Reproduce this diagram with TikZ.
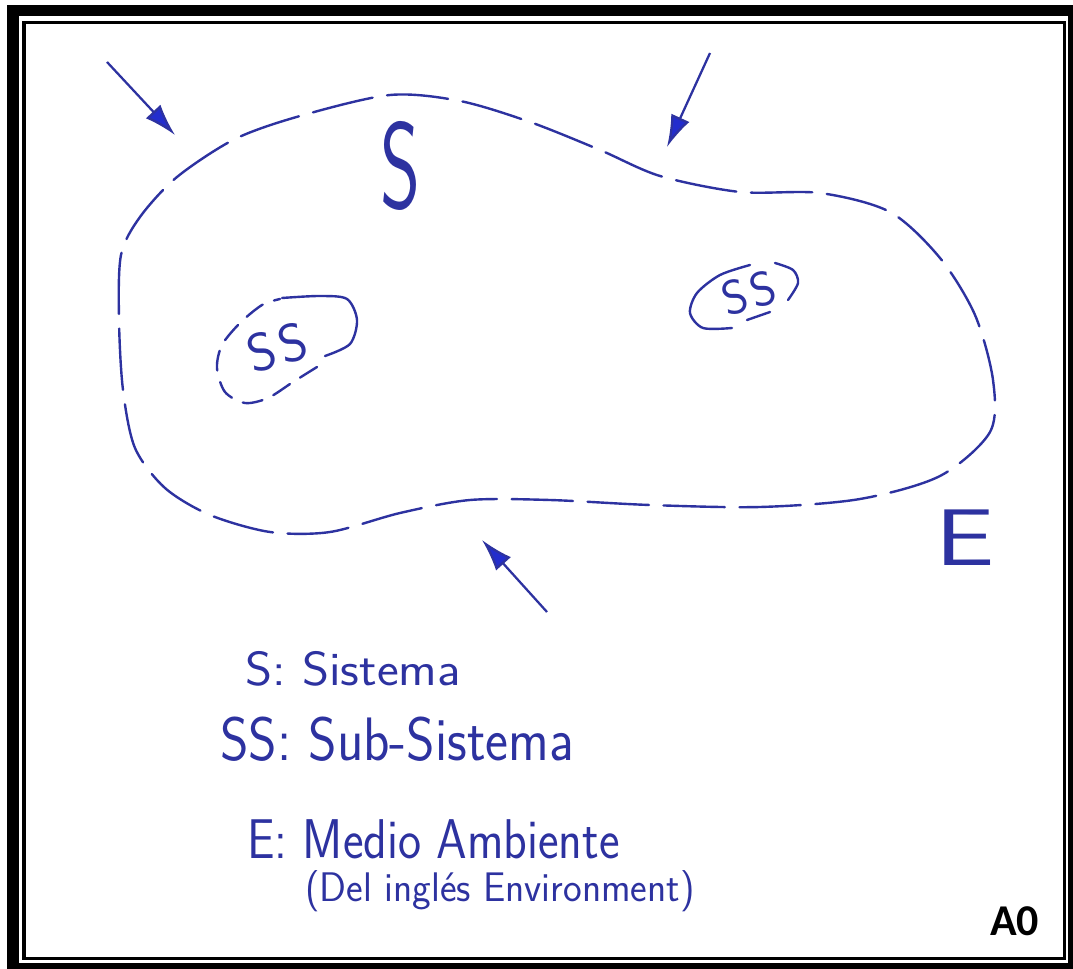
\documentclass[tikz,border=0pt]{standalone}
\usepackage{fontspec}
\newfontfamily\tagfont{Carlito}
\usetikzlibrary{arrows.meta}
\definecolor{ink}{RGB}{45,50,160}
\definecolor{inkhead}{RGB}{35,45,205}
\begin{document}
\begin{tikzpicture}[x=0.75pt,y=-0.75pt,
    pen/.style={ink,line width=1.8pt,line cap=round},
    bound/.style={dash pattern=on 46pt off 11pt},
    subbound/.style={dash pattern=on 15pt off 9pt},
    flow/.style={ink,line width=1.7pt,-{Latex[length=24pt,width=15pt,fill=inkhead]}},
    hand/.style={ink,inner sep=0pt}]
    \useasboundingbox (0,0) rectangle (1073,969);
    % frame
    \fill[black] (7,5) rectangle (1073,969);
    \fill[white] (19,16) rectangle (1068,963);
    \draw[black,line width=2.6pt] (24,22.5) rectangle (1064.5,958.5);
    % system boundary
    \draw[pen,bound] plot[smooth cycle] coordinates {(140,217) (177,177) (235,139) (300,116) (390,95) (460,101) (530,122) (600,150) (660,176) (740,192) (820,193) (890,212) (940,258) (975,315) (993,380) (990,432) (940,476) (860,499) (760,507) (650,505) (550,500) (470,500) (400,513) (330,532) (270,532) (210,515) (165,488) (135,448) (123,390) (119,320) (121,255)};
    % sub-systems
    \draw[pen] plot[smooth] coordinates {(282,298) (320,296) (347,299) (357,320) (350,344) (325,356)};
    \draw[pen,subbound] plot[smooth] coordinates {(317,367) (293,382) (268,398) (245,403) (225,392) (217,368) (222,345) (240,323) (262,305) (280,299)};
    \draw[pen] plot[smooth] coordinates {(750,265) (720,275) (697,293) (690,313) (703,328) (732,328)};
    \draw[pen] (747,320) -- (770,312);
    \draw[pen] plot[smooth] coordinates {(775,263) (793,270) (798,283) (788,300)};
    \node[hand,rotate=16,font=\sffamily\fontsize{40}{40}\selectfont] (ssa) at (277,347) {S\kern3pt S};
    \node[hand,rotate=16,font=\sffamily\fontsize{36}{36}\selectfont] (ssb) at (749,293) {S\kern3pt S};
    % labels
    \node[hand,xscale=1.15,yscale=1.84,font=\sffamily\fontsize{50}{50}\selectfont] (sys) at (401,166) {S};
    \node[hand,xscale=1.8,yscale=1.37,font=\sffamily\fontsize{44}{44}\selectfont] (env) at (965,538) {E};
    % inputs
    \coordinate (ina) at (107,62);  \coordinate (ha) at (175,135);
    \coordinate (inb) at (710,53);  \coordinate (hb) at (667,147);
    \coordinate (inc) at (547,612); \coordinate (hc) at (482,540);
    \draw[flow] (ina) -- (ha);
    \draw[flow] (inb) -- (hb);
    \draw[flow] (inc) -- (hc);
    % legend
    \node[hand,anchor=base west,xscale=1.08,font=\sffamily\fontsize{36}{36}\selectfont] (lsys) at (245,685) {S: Sistema};
    \node[hand,anchor=base west,xscale=0.89,font=\sffamily\fontsize{46}{46}\selectfont] (lsub) at (220,760) {SS: Sub-Sistema};
    \node[hand,anchor=base west,xscale=0.875,font=\sffamily\fontsize{42}{42}\selectfont] (lenv) at (247,858) {E: Medio Ambiente};
    \node[hand,anchor=base west,xscale=0.96,font=\sffamily\fontsize{31}{31}\selectfont] (leng) at (305,901) {(Del inglés Environment)};
    \node[anchor=base west,inner sep=0pt,font=\tagfont\bfseries\fontsize{33}{33}\selectfont] (tag) at (990,935) {A0};
\end{tikzpicture}
\end{document}
